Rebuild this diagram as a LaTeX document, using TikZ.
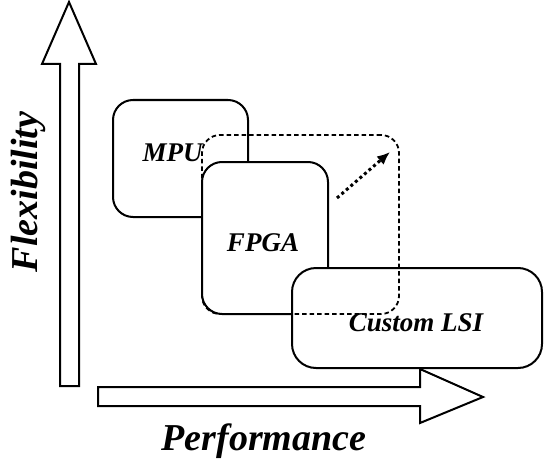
\documentclass[tikz,border=0pt]{standalone}
\usepackage{fontspec}
\setmainfont{Liberation Serif}
\usetikzlibrary{arrows.meta}

\tikzset{
  chip/.style={draw=black, fill=white, line width=2pt, rounded corners=20pt, inner sep=0pt},
  chiptext/.style={font=\fontsize{27}{30}\selectfont\bfseries\itshape},
  axistext/.style={font=\fontsize{38}{42}\selectfont\bfseries\itshape},
  bigarrow/.style={draw=black, fill=white, line width=2pt, line join=miter},
}

\begin{document}
\begin{tikzpicture}[x=1pt, y=-1pt]

  \useasboundingbox[fill=white] (0,0) rectangle (545,468);

  % Axis arrows.
  \filldraw[bigarrow] (60,386) -- (79,386) -- (79,64) -- (96,64) -- (69,2)
    -- (42,64) -- (60,64) -- cycle;
  \filldraw[bigarrow] (98,387) -- (420,387) -- (420,369) -- (483,397)
    -- (420,423) -- (420,406) -- (98,406) -- cycle;

  % Axis annotations
  \node[axistext, rotate=90] (flex) at (28,192) {Flexibility};
  \node[axistext] (perf) at (264,441) {Performance};

  % 3 chip boxes.
  \node[chip, minimum width=135pt, minimum height=117pt] (mpu) at (180.5,158.5) {};
  \node[chip, minimum width=126pt, minimum height=152pt] (fpga) at (265,238) {};
  \node[chip, rounded corners=24pt, minimum width=250pt, minimum height=100pt] (lsi) at (417,318) {};

  % Text annotations
  \node[chiptext] (mputext) at ([shift={(-8,-6)}]mpu.center) {MPU};
  \node[chiptext] (fpgatext) at ([shift={(-2,5)}]fpga.center) {FPGA};
  \node[chiptext] (lsitext) at ([shift={(-1,5)}]lsi.center) {Custom LSI};

  % Dashed box.
  \node[draw=black, line width=1.8pt, dash pattern=on 4.5pt off 3pt, rounded corners=18pt,
    minimum width=197pt, minimum height=179pt] (shift) at (300.5,224.5) {};

  % Dotted line with arrowhead.
  \coordinate (from) at (337,198);
  \coordinate (to) at (390,152);
  \draw[line width=3pt, dash pattern=on 3pt off 3pt, -{Latex[length=13pt, width=11pt]}] (from) -- (to);

\end{tikzpicture}
\end{document}
